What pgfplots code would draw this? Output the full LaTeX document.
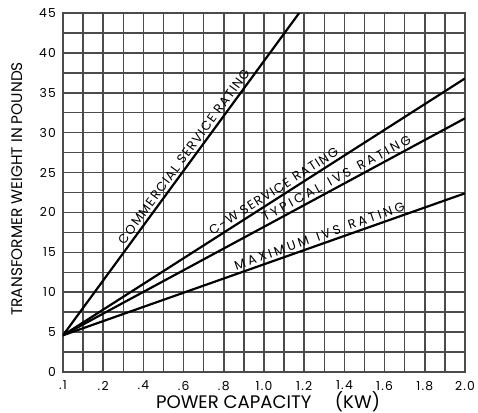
\documentclass[border=0pt]{standalone}
\usepackage{fontspec}
\setmainfont{Poppins}
\usepackage{pgfplots}
\pgfplotsset{compat=1.18}
\newfontfamily\lblfont[LetterSpace=10]{Poppins}
\newfontfamily\widefont[LetterSpace=22,WordSpace=1.4]{Poppins}
\definecolor{gridgray}{RGB}{75,75,75}
\tikzset{linelabel/.style={sloped, anchor=south, inner sep=1.3bp, font=\lblfont\fontsize{6.4}{7}\selectfont}}
\begin{document}
\begin{tikzpicture}
\path[use as bounding box] (-31.5bp,-20.5bp) rectangle (207.5bp,186bp);
\begin{axis}[
  at={(0,0)}, anchor=south west,
  width=201bp, height=179.5bp, scale only axis,
  xmin=0, xmax=2.0, ymin=0, ymax=45,
  xtick={0,0.2,0.4,0.6,0.8,1.0,1.2,1.4,1.6,1.8,2.0},
  xticklabels={.1,.2,.4,.6,.8,1.0,1.2,1.4,1.6,1.8,2.0},
  minor xtick={0.1,0.3,0.5,0.7,0.9,1.1,1.3,1.5,1.7,1.9},
  ytick={0,5,10,15,20,25,30,35,40,45},
  yticklabels={0,5,10,15,20,25,30,35,40,45},
  minor ytick={2.5,7.5,12.5,17.5,22.5,27.5,32.5,37.5,42.5},
  major tick length=0pt, minor tick length=0pt,
  grid=both,
  major grid style={gridgray, line width=0.75pt},
  minor grid style={gridgray, line width=0.75pt},
  axis line style={gridgray, line width=0.8pt},
  ticklabel style={font=\lblfont\fontsize{6.2}{7}\selectfont},
  xticklabel style={yshift=-1bp},
  xlabel={POWER CAPACITY\hspace{1.3em}(KW)},
  ylabel={TRANSFORMER WEIGHT IN POUNDS},
  xlabel style={font=\fontsize{9.1}{10}\selectfont, at={(axis description cs:0.51,-0.084)}, anchor=center},
  ylabel style={font=\fontsize{7.7}{9}\selectfont, at={(axis description cs:-0.115,0.51)}, anchor=center},
]
% commercial service rating
\addplot[black, line width=1.1pt] coordinates {(0,4.6) (1.175,45)}
  node[linelabel, pos=0.54] {COMMERCIAL SERVICE RATING};
% c-w service rating
\addplot[black, line width=1.1pt] coordinates {(0,4.6) (2.0,36.8)}
  node[linelabel, pos=0.535] {C-W SERVICE RATING};
% typical ivs rating
\addplot[black, line width=1.1pt] coordinates {(0,4.6) (2.0,31.8)}
  node[linelabel, pos=0.69, font=\widefont\fontsize{6.4}{7}\selectfont] {TYPICAL IVS RATING};
% maximum ivs rating
\addplot[black, line width=1.1pt] coordinates {(0,4.6) (2.0,22.4)}
  node[linelabel, pos=0.645, font=\widefont\fontsize{6.4}{7}\selectfont] {MAXIMUM IVS RATING};
\end{axis}
\end{tikzpicture}
\end{document}
